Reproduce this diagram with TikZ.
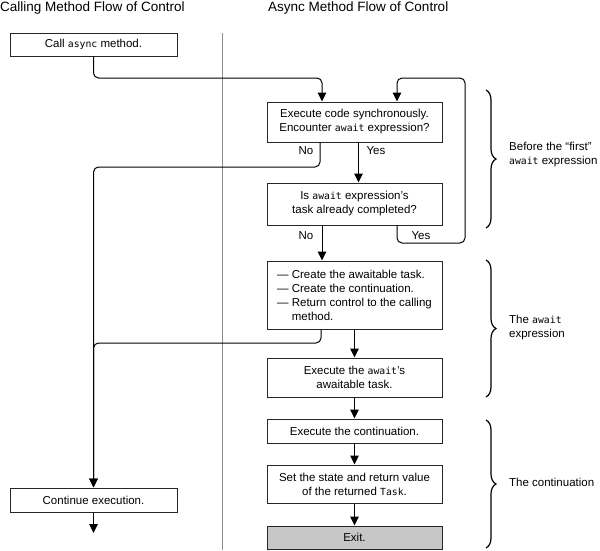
\documentclass[tikz,border=0pt]{standalone}
\usepackage{fontspec}
\setmainfont{Liberation Sans}
\setmonofont{DejaVu Sans Mono}[Scale=0.85]
\usetikzlibrary{arrows.meta,decorations.pathreplacing}

\begin{document}
\begin{tikzpicture}[x=1pt,y=-1pt,
    box/.style={draw=black!85, line width=1pt, minimum width=175pt, inner sep=0pt,
                align=center, font=\fontsize{11.5}{14}\selectfont},
    flow/.style={line width=1pt, rounded corners=5pt, -{Triangle[length=9pt,width=8.5pt]}},
    note/.style={font=\fontsize{11.5}{14}\selectfont, inner sep=0pt},
    title/.style={font=\fontsize{13.5}{16}\selectfont, anchor=west, inner sep=0pt},
    brace/.style={decorate, decoration={brace, amplitude=10pt}, line width=1.2pt}]
  \useasboundingbox (0,0) rectangle (600,550);

  % column titles and divider
  \node[title] (ltitle) at (0,8)   {Calling Method Flow of Control};
  \node[title] (rtitle) at (268,8) {Async Method Flow of Control};
  \draw[black!45, line width=0.6pt] (222,33) -- (222,550);

  % calling method
  \node[box, minimum width=167pt, minimum height=23pt] (call) at (93.5,44.5) {Call \texttt{async} method.};
  \node[box, minimum width=167pt, minimum height=24pt] (cont) at (93.5,500)  {Continue execution.};
  \coordinate (finish) at (93.5,533);

  % async method
  \node[box, minimum height=40pt] (exec)  at (354.5,122)   {Execute code synchronously.\\Encounter \texttt{await} expression?};
  \node[box, minimum height=42pt] (done)  at (354.5,204)   {Is \texttt{await} expression's\\task already completed?};
  \node[box, minimum height=68pt, align=left] (create) at (354.5,295)
       {--- Create the awaitable task.\\--- Create the continuation.\\--- Return control to the calling\\\phantom{--- }method.};
  \node[box, minimum height=39pt] (task)  at (354.5,377.5) {Execute the \texttt{await}'s\\awaitable task.};
  \node[box, minimum height=24pt] (contn) at (354.5,431)   {Execute the continuation.};
  \node[box, minimum height=38pt] (state) at (354.5,484)   {Set the state and return value\\of the returned \texttt{Task}.};
  \node[box, minimum height=23pt, fill=black!22] (exit) at (354.5,537.5) {Exit.};

  % turning points
  \coordinate (calljoin) at (322,78);
  \coordinate (nofirst)  at (320,167);
  \coordinate (loopbot)  at (397,243);
  \coordinate (looptop)  at (465,78);
  \coordinate (back)     at (321,343);

  % connectors
  \draw[flow] (call.south) |- (calljoin) -- (calljoin |- exec.north);
  \draw[flow] (nofirst |- exec.south) -- (nofirst) -| (cont.north);
  \draw[flow] ([xshift=4pt]exec.south) -- ([xshift=4pt]done.north);
  \draw[flow] ([xshift=-32.5pt]done.south) -- ([xshift=-32.5pt]create.north);
  \draw[flow] (loopbot |- done.south) -- (loopbot) -| (looptop) -| (loopbot |- exec.north);
  \draw[flow] (back |- create.south) -- (back) -| (cont.north);
  \draw[flow] (create) -- (task);
  \draw[flow] (task) -- (contn);
  \draw[flow] (contn) -- (state);
  \draw[flow] (state) -- (exit);
  \draw[flow] (cont) -- (finish);

  % branch labels
  \node[note] (no1)  at (306,151) {No};
  \node[note] (yes1) at (376,151) {Yes};
  \node[note] (no2)  at (306,236) {No};
  \node[note] (yes2) at (421,236) {Yes};

  % braces
  \draw[brace] (486,90)  -- (486,228);
  \draw[brace] (486,260) -- (486,397);
  \draw[brace] (486,420) -- (486,548);
  \node[note, anchor=west, align=left] (phase1) at (509,155) {Before the “first”\\\texttt{await} expression};
  \node[note, anchor=west, align=left] (phase2) at (509,328) {The \texttt{await}\\expression};
  \node[note, anchor=west] (phase3) at (509,482) {The continuation};
\end{tikzpicture}
\end{document}
